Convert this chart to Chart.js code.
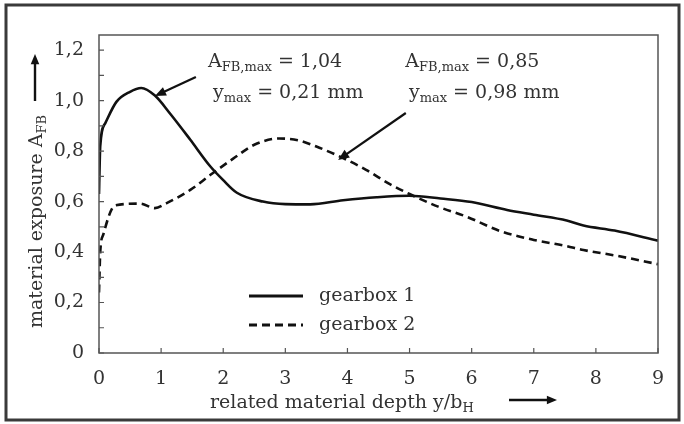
<!DOCTYPE html>
<html>
<head>
<meta charset="utf-8">
<style>
  html, body { margin: 0; padding: 0; background: #fff; }
  #wrap { width: 684px; height: 424px; }
</style>
<script src="https://cdn.jsdelivr.net/npm/chart.js@4.4.1/dist/chart.umd.min.js"></script>
</head>
<body>
<div id="wrap"><canvas id="chart" width="684" height="424"></canvas></div>
<script>
// gearbox 1 (solid)
const depth1 = [0, 0.02, 0.1, 0.28, 0.5, 0.68, 0.9, 1.14, 1.47, 1.79, 2.0, 2.22, 2.64, 3.0, 3.4, 3.93, 4.47, 5.0, 5.5, 6.0, 6.57, 7.0, 7.53, 7.8, 8.3, 9.0];
const exposure1 = [0.63, 0.82, 0.91, 0.995, 1.035, 1.05, 1.02, 0.95, 0.845, 0.74, 0.685, 0.635, 0.60, 0.59, 0.589, 0.605, 0.617, 0.623, 0.612, 0.598, 0.567, 0.548, 0.525, 0.505, 0.485, 0.445];
// gearbox 2 (dashed)
const depth2 = [0, 0.02, 0.07, 0.26, 0.66, 0.9, 1.09, 1.47, 1.79, 2.16, 2.5, 2.9, 3.2, 3.5, 3.88, 4.3, 4.69, 5.0, 5.46, 5.92, 6.46, 7.0, 7.5, 7.8, 8.34, 9.0];
const exposure2 = [0.24, 0.40, 0.47, 0.585, 0.592, 0.574, 0.594, 0.646, 0.705, 0.77, 0.825, 0.85, 0.843, 0.818, 0.778, 0.726, 0.668, 0.63, 0.58, 0.54, 0.483, 0.448, 0.425, 0.408, 0.385, 0.352];

const seriesNames = ["gearbox 1", "gearbox 2"];
const xTicks = [0, 1, 2, 3, 4, 5, 6, 7, 8, 9];
const yTicks = [0, 0.2, 0.4, 0.6, 0.8, 1.0, 1.2];
const yMinorTicks = [0.1, 0.3, 0.5, 0.7, 0.9, 1.1];

// peak notes (data units): text lines and arrow
const notes = [
  { a: "1,04", y: "0,21 mm", at: [1.755, 1.133], at2: [1.835, 1.010], from: [1.56, 1.094], to: [0.90, 1.018] },
  { a: "0,85", y: "0,98 mm", at: [4.93, 1.133], at2: [4.99, 1.010], from: [4.94, 0.951], to: [3.85, 0.765] }
];

const FONT = '"DejaVu Serif", "Liberation Serif", serif';
const TXT = "#333";

function pts(xs, ys) { return xs.map((x, i) => ({ x: x, y: ys[i] })); }

function arrow(ctx, x1, y1, x2, y2, head) {
  const ang = Math.atan2(y2 - y1, x2 - x1);
  ctx.beginPath();
  ctx.moveTo(x1, y1);
  ctx.lineTo(x2 - Math.cos(ang) * head * 0.6, y2 - Math.sin(ang) * head * 0.6);
  ctx.stroke();
  ctx.beginPath();
  ctx.moveTo(x2, y2);
  ctx.lineTo(x2 - head * Math.cos(ang - 0.4), y2 - head * Math.sin(ang - 0.4));
  ctx.lineTo(x2 - head * Math.cos(ang + 0.4), y2 - head * Math.sin(ang + 0.4));
  ctx.closePath();
  ctx.fill();
}

// draws [text, isSub] pieces left to right
function subText(ctx, x, y, parts, size) {
  parts.forEach(p => {
    ctx.font = (p[1] ? Math.round(size * 0.68) : size) + "px " + FONT;
    ctx.fillText(p[0], x, p[1] ? y + size * 0.22 : y);
    x += ctx.measureText(p[0]).width;
  });
}

const decor = {
  id: "decor",
  afterDatasetsDraw(chart) {
    const ctx = chart.ctx;
    const a = chart.chartArea;
    const xs = chart.scales.x, ys = chart.scales.y;
    ctx.save();
    // outer frame
    ctx.strokeStyle = "#3a3a3a";
    ctx.lineWidth = 3;
    ctx.strokeRect(6, 5, 673, 415);
    // plot box
    ctx.strokeStyle = "#555";
    ctx.lineWidth = 1.5;
    ctx.strokeRect(a.left, a.top, a.right - a.left, a.bottom - a.top);
    // inward ticks
    ctx.lineWidth = 1.2;
    ctx.beginPath();
    xTicks.forEach(v => { const px = xs.getPixelForValue(v); ctx.moveTo(px, a.bottom); ctx.lineTo(px, a.bottom - 5); });
    yTicks.concat(yMinorTicks).forEach(v => { const py = ys.getPixelForValue(v); ctx.moveTo(a.left, py); ctx.lineTo(a.left + 5, py); });
    ctx.stroke();

    ctx.fillStyle = TXT;
    ctx.textAlign = "left";

    // legend
    chart.data.datasets.forEach((ds, i) => {
      const ly = 296 + i * 29;
      ctx.strokeStyle = "#111";
      ctx.lineWidth = 2.8;
      ctx.setLineDash(ds.borderDash || []);
      ctx.beginPath(); ctx.moveTo(249, ly); ctx.lineTo(303, ly); ctx.stroke();
      ctx.setLineDash([]);
      ctx.font = "19px " + FONT;
      ctx.textBaseline = "middle";
      ctx.fillText(ds.label, 319, ly);
    });
    ctx.textBaseline = "alphabetic";

    // peak notes
    ctx.fillStyle = "#111";
    ctx.strokeStyle = "#111";
    notes.forEach(n => {
      ctx.lineWidth = 2.2;
      arrow(ctx, xs.getPixelForValue(n.from[0]), ys.getPixelForValue(n.from[1]),
        xs.getPixelForValue(n.to[0]), ys.getPixelForValue(n.to[1]), 12);
    });
    ctx.fillStyle = TXT;
    notes.forEach(n => {
      subText(ctx, xs.getPixelForValue(n.at[0]), ys.getPixelForValue(n.at[1]),
        [["A", 0], ["FB,max", 1], [" = " + n.a, 0]], 19);
      subText(ctx, xs.getPixelForValue(n.at2[0]), ys.getPixelForValue(n.at2[1]),
        [["y", 0], ["max", 1], [" = " + n.y, 0]], 19);
    });

    // x title + arrow
    subText(ctx, 210, 408, [["related material depth y/b", 0], ["H", 1]], 19);
    ctx.fillStyle = "#111";
    ctx.lineWidth = 2.4;
    arrow(ctx, 509, 400, 557, 400, 11);

    // y title + arrow (rotated)
    ctx.save();
    ctx.translate(42, 328);
    ctx.rotate(-Math.PI / 2);
    ctx.fillStyle = TXT;
    subText(ctx, 0, 0, [["material exposure A", 0], ["FB", 1]], 19);
    ctx.restore();
    ctx.fillStyle = "#111";
    arrow(ctx, 35, 101, 35, 54, 11);
    ctx.restore();
  }
};

new Chart(document.getElementById("chart"), {
  type: "line",
  data: {
    datasets: [
      { label: seriesNames[0], data: pts(depth1, exposure1), borderColor: "#111", borderWidth: 2.6, pointRadius: 0, cubicInterpolationMode: "monotone", fill: false },
      { label: seriesNames[1], data: pts(depth2, exposure2), borderColor: "#111", borderWidth: 2.6, borderDash: [8, 5], pointRadius: 0, cubicInterpolationMode: "monotone", fill: false }
    ]
  },
  options: {
    responsive: false,
    animation: false,
    layout: { padding: { left: 0, top: 35, right: 26, bottom: 0 } },
    plugins: { legend: { display: false }, tooltip: { enabled: false } },
    scales: {
      x: {
        type: "linear", min: 0, max: 9,
        afterBuildTicks: s => { s.ticks = xTicks.map(v => ({ value: v })); },
        afterFit: s => { s.height = 71; },
        grid: { display: false },
        border: { display: false },
        ticks: { color: TXT, padding: 7, maxRotation: 0, font: { family: FONT, size: 19 } }
      },
      y: {
        type: "linear", min: 0, max: 1.26,
        afterBuildTicks: s => { s.ticks = yTicks.map(v => ({ value: v })); },
        afterFit: s => { s.width = 99; },
        grid: { display: false },
        border: { display: false },
        ticks: {
          color: TXT, padding: 7, font: { family: FONT, size: 19 },
          callback: v => v === 0 ? "0" : v.toFixed(1).replace(".", ",")
        }
      }
    }
  },
  plugins: [decor]
});
</script>
</body>
</html>
